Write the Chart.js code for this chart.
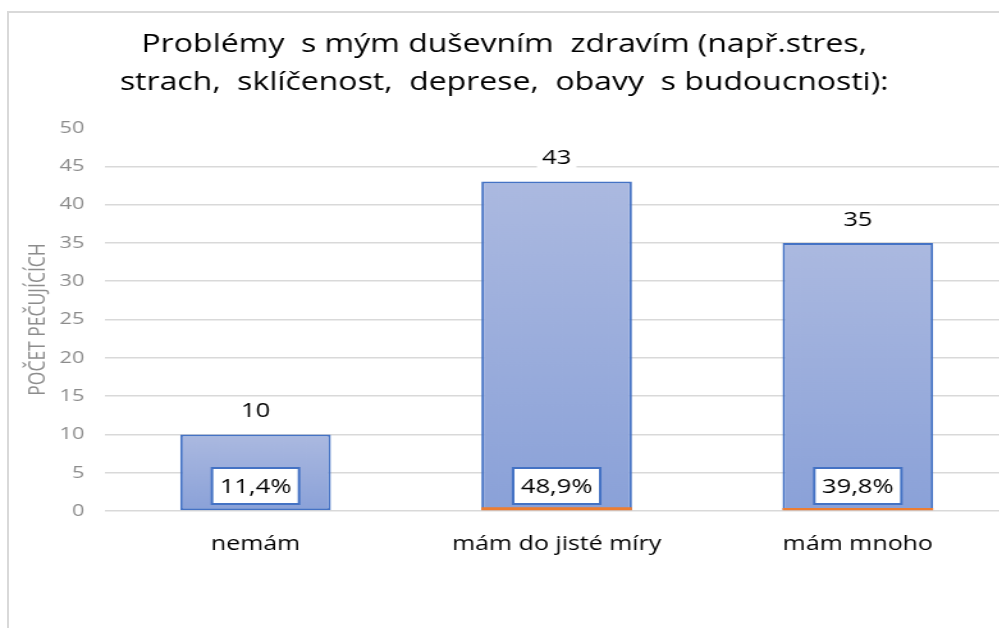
<!DOCTYPE html>
<html lang="cs">
  <head>
    <meta charset="UTF-8" />
    <title>Problémy s mým duševním zdravím</title>
    <script src="https://cdn.jsdelivr.net/npm/chart.js"></script>
    <style>
      html, body { margin: 0; padding: 0; background: #fff; overflow: hidden; }
      body { width: 999px; height: 628px; position: relative; }
      #frame {
        position: absolute; left: 7px; top: 11px; width: 1100px; height: 700px;
        border: 2px solid #d9d9d9;
      }
      #chart { position: absolute; left: 0; top: 0; }
    </style>
  </head>
  <body>
    <div id="frame"></div>
    <!-- the source picture is stretched sideways, so the canvas is too -->
    <canvas id="chart" width="808" height="628" style="width: 1034px; height: 628px"></canvas>

    <script>
      // data
      const categories = ["nemám", "mám do jisté míry", "mám mnoho"];
      const counts = [10, 43, 35];
      const shares = [0.114, 0.489, 0.398];
      const shareLabels = ["11,4%", "48,9%", "39,8%"];
      const titleLines = [
        "Problémy  s mým duševním  zdravím (např.stres,",
        "strach,  sklíčenost,  deprese,  obavy  s budoucnosti):",
      ];
      const yTitle = "POČET PEČUJÍCÍCH";

      const FONT = "'Open Sans'";

      // gradient per bar, lighter at the top
      function barFill(ctx) {
        const chart = ctx.chart;
        if (!chart.chartArea || ctx.raw === undefined) return "#98acdc";
        const y = chart.scales.y;
        const top = y.getPixelForValue(ctx.raw);
        const bottom = y.getPixelForValue(0);
        const g = chart.ctx.createLinearGradient(0, top, 0, bottom);
        g.addColorStop(0, "#abb9e0");
        g.addColorStop(1, "#8aa1d8");
        return g;
      }

      // value labels above bars and boxed percentages at the bottom
      const labelPlugin = {
        id: "barLabels",
        afterDatasetsDraw(chart) {
          const ctx = chart.ctx;
          const meta = chart.getDatasetMeta(0);
          const base = chart.scales.y.getPixelForValue(0);
          ctx.save();
          ctx.textAlign = "center";
          ctx.textBaseline = "middle";
          ctx.font = "20px " + FONT;
          meta.data.forEach((bar, i) => {
            // count label
            const t = String(counts[i]);
            const w = ctx.measureText(t).width;
            const cy = bar.y - 24;
            ctx.fillStyle = "#fff";
            ctx.fillRect(bar.x - w / 2 - 4, cy - 13, w + 8, 26);
            ctx.fillStyle = "#000";
            ctx.fillText(t, bar.x, cy + 1);

            // percentage box
            const p = shareLabels[i];
            const pw = ctx.measureText(p).width + 12;
            const ph = 36;
            const py = base - 25;
            ctx.fillStyle = "#fff";
            ctx.fillRect(bar.x - pw / 2, py - ph / 2, pw, ph);
            ctx.lineWidth = 2;
            ctx.strokeStyle = "#4472c4";
            ctx.strokeRect(bar.x - pw / 2, py - ph / 2, pw, ph);
            ctx.fillStyle = "#000";
            ctx.fillText(p, bar.x, py + 1);
          });
          ctx.restore();
        },
      };

      new Chart(document.getElementById("chart"), {
        type: "bar",
        data: {
          labels: categories,
          datasets: [
            {
              label: "počet",
              data: counts,
              backgroundColor: barFill,
              borderColor: "#4472c4",
              borderWidth: 2,
              borderSkipped: false,
              categoryPercentage: 1,
              barPercentage: 0.5,
              order: 2,
            },
            {
              label: "podíl",
              data: shares,
              backgroundColor: "#ed7d31",
              borderWidth: 0,
              categoryPercentage: 1,
              barPercentage: 0.5,
              order: 1,
            },
          ],
        },
        options: {
          responsive: false,
          animation: false,
          layout: { padding: { left: 0, right: 20, top: 0, bottom: 0 } },
          plugins: {
            legend: { display: false },
            tooltip: { enabled: false },
            title: {
              display: true,
              text: titleLines,
              color: "#000",
              font: { family: "Open Sans", size: 25, weight: "normal", lineHeight: 1.52 },
              padding: { top: 26, bottom: 26 },
            },
          },
          scales: {
            x: {
              stacked: true,
              grid: { display: false, drawTicks: false },
              border: { display: false },
              ticks: {
                color: "#000",
                padding: 22,
                font: { family: "Open Sans", size: 19.5 },
              },
              afterFit(scale) {
                scale.height = 117;
              },
            },
            y: {
              stacked: false,
              min: 0,
              max: 50,
              ticks: {
                stepSize: 5,
                color: "#8c8c8c",
                padding: 16,
                font: { family: "Open Sans", size: 17 },
              },
              grid: {
                drawTicks: false,
                lineWidth: 1.5,
                color: (c) => (c.tick && c.tick.value === 50 ? "rgba(0,0,0,0)" : "#d9d9d9"),
              },
              border: { display: false },
              title: {
                display: true,
                text: yTitle,
                color: "#8c8c8c",
                font: { family: "Open Sans", size: 17.5 },
                padding: { top: 20, bottom: 0 },
              },
              afterFit(scale) {
                scale.width = 82;
              },
            },
          },
        },
        plugins: [labelPlugin],
      });
    </script>
  </body>
</html>
